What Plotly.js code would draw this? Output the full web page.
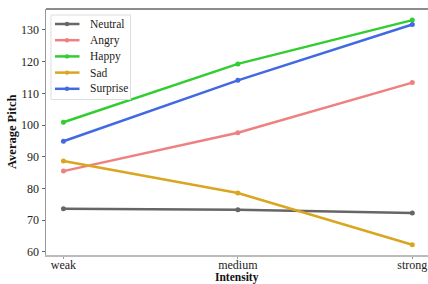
<!DOCTYPE html>
<html><head><meta charset="utf-8">
<script src="https://cdn.plot.ly/plotly-3.0.1.min.js"></script>
<style>body{margin:0}#c{width:428px;height:284px}</style>
</head><body><div id="c"></div>
<script>
const categories = ["weak", "medium", "strong"];
const seriesNames = ["Neutral", "Angry", "Happy", "Sad", "Surprise"];
const neutral = [73.6, 73.3, 72.3];
const angry = [85.5, 97.6, 113.4];
const happy = [100.9, 119.3, 133.1];
const sad = [88.7, 78.6, 62.3];
const surprise = [94.9, 114.1, 131.7];
const colors = ["#666666", "#f08080", "#32cd32", "#daa520", "#4169e1"];
const values = [neutral, angry, happy, sad, surprise];
const xIdx = categories.map((c, i) => i);

const traces = seriesNames.map((n, i) => ({
  x: xIdx, y: values[i], name: n, type: "scatter", mode: "lines+markers", showlegend: false,
  line: {color: colors[i], width: 2.5}, marker: {color: colors[i], size: 5}
}));

// plot area geometry in pixels (for the hand-built legend)
const W = 428, H = 284, ML = 46, MR = 0, MT = 9, MB = 29;
const PW = W - ML - MR, PH = H - MT - MB;
const px = x => (x - ML) / PW;
const py = y => 1 - (y - MT) / PH;

const font = "Liberation Serif";
const shapes = [
  {type: "line", xref: "paper", yref: "paper", x0: 0, x1: 1, y0: 1, y1: 1, line: {color: "#666666", width: 1.5}},
  {type: "rect", xref: "paper", yref: "paper", x0: px(51), x1: px(130.5), y0: py(15), y1: py(99.5),
   fillcolor: "rgba(255,255,255,0.9)", line: {color: "#dddddd", width: 1}}
];
const annotations = [
  {text: "<b>Intensity</b>", xref: "paper", yref: "paper", x: 0.5, y: 0, yshift: -22.5, yanchor: "middle",
   showarrow: false, font: {size: 11.5, family: font, color: "#111"}},
  {text: "<b>Average Pitch</b>", xref: "paper", yref: "paper", x: 0, xshift: -34, y: 0.5, textangle: -90,
   xanchor: "center", showarrow: false, font: {size: 12.5, family: font, color: "#111"}}
];
seriesNames.forEach((n, i) => {
  const yy = 24 + i * 16.2;
  shapes.push({type: "line", xref: "paper", yref: "paper", x0: px(55), x1: px(79.5), y0: py(yy), y1: py(yy),
    line: {color: colors[i], width: 2.5}});
  shapes.push({type: "circle", xref: "paper", yref: "paper", x0: px(64.8), x1: px(69.2), y0: py(yy + 2.2), y1: py(yy - 2.2),
    fillcolor: colors[i], line: {width: 0}});
  annotations.push({text: n, xref: "paper", yref: "paper", x: px(87.5), y: py(yy), xanchor: "left", yanchor: "middle",
    showarrow: false, font: {size: 11.5, family: font, color: "#222"}});
});

Plotly.newPlot("c", traces, {
  width: W, height: H,
  margin: {l: ML, r: MR, t: MT, b: MB},
  paper_bgcolor: "white", plot_bgcolor: "white",
  font: {family: font, size: 12, color: "#222"},
  showlegend: false,
  xaxis: {range: [-0.1, 2.09], tickvals: xIdx, ticktext: categories, showgrid: false, zeroline: false,
    showline: true, linecolor: "#bbbbbb", linewidth: 1.5, ticks: "outside", ticklen: 2, tickcolor: "#999",
    ticklabelstandoff: -4, tickfont: {size: 12, family: font}},
  yaxis: {range: [59.05, 136.6], tickvals: [60,70,80,90,100,110,120,130], showgrid: false, zeroline: false,
    showline: true, linecolor: "#999999", linewidth: 1.5, ticks: "outside", ticklen: 3, tickcolor: "#666",
    tickfont: {size: 12, family: font}},
  annotations: annotations,
  shapes: shapes
}, {displayModeBar: false, staticPlot: true});
</script></body></html>
